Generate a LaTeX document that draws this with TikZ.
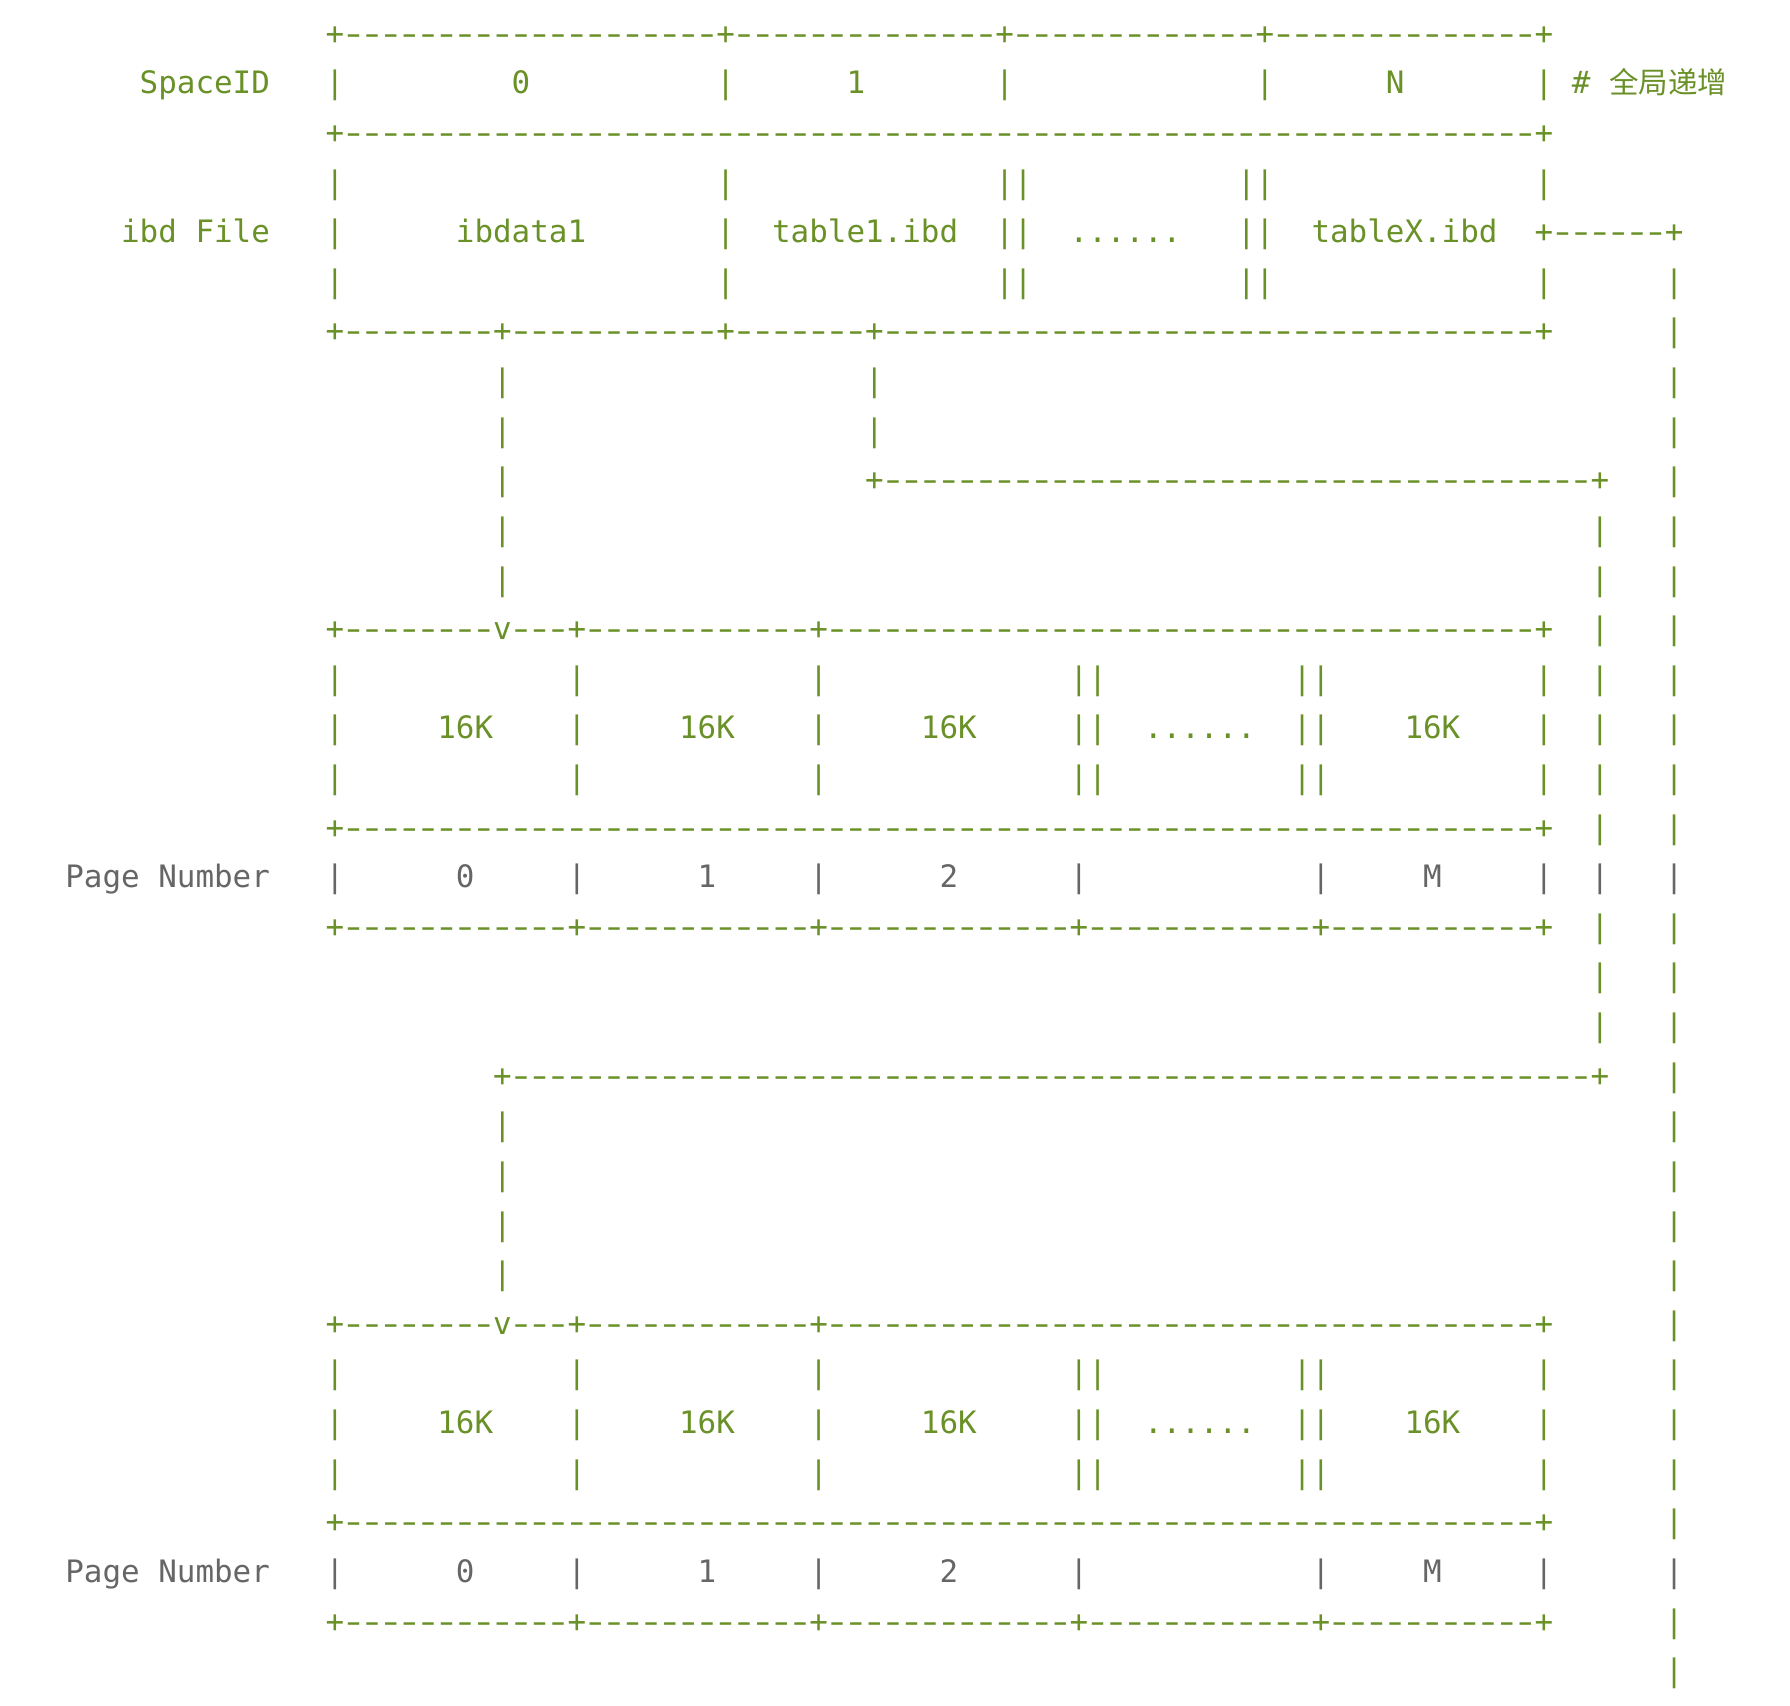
\documentclass[tikz,border=0pt]{standalone}
\usepackage{fontspec}
\newfontfamily\mono{DejaVu Sans Mono}[Ligatures=TeXOff]
\newfontfamily\cjk{Noto Sans CJK SC}
\definecolor{ascii}{RGB}{106,145,40}
\definecolor{pgray}{RGB}{102,102,102}
\newcommand\dsh{\makebox[18.6bp][c]{\scalebox{1.45}[1]{-}}}
\newcommand\dashes[1]{\foreach\i in {1,...,#1}{\dsh}}
\newcommand\sixdots{......}
\tikzset{
  txt/.style={anchor=base west, inner sep=0pt, outer sep=0pt,
    font=\mono\fontsize{30.9bp}{36bp}\selectfont},
  cjktxt/.style={anchor=base west, inner sep=0pt, outer sep=0pt,
    font=\cjk\fontsize{29.5bp}{34bp}\selectfont, text=ascii}
}
% \asciirow[colour]{line}{col/text, col/text, ...}
\newcommand\asciirow[3][ascii]{%
  \foreach \c/\t [count=\k] in {#3}{%
    \node[txt,text=#1] (r#2-\k) at ({325.7bp+(\c)*18.6bp},{-44.2bp-(#2)*49.62bp}) {\t};}}
\begin{document}
\begin{tikzpicture}
\useasboundingbox (0,0) rectangle (1790bp,-1706bp);
% SpaceID table
\asciirow{0}{0/{+\dashes{20}+\dashes{14}+\dashes{13}+\dashes{14}+}}
\asciirow{1}{-10/SpaceID, 0/|, 10/0, 21/|, 28/1, 36/|, 50/|, 57/N, 65/|, 67/\#}
\node[cjktxt] (cjk) at ({325.7bp+69*18.6bp},{-44.2bp-1*49.62bp}) {全局递增};
\asciirow{2}{0/{+\dashes{64}+}}
% ibd File table
\asciirow{3}{0/|, 21/|, 36/||, 49/||, 65/|}
\asciirow{4}{-11/ibd, -7/File, 0/|, 7/ibdata1, 21/|, 24/table1.ibd, 36/||, 40/\sixdots, 49/||, 53/tableX.ibd, 65/{+\dashes{6}+}}
\asciirow{5}{0/|, 21/|, 36/||, 49/||, 65/|, 72/|}
\asciirow{6}{0/{+\dashes{8}+\dashes{11}+\dashes{7}+\dashes{35}+}, 72/|}
\asciirow{7}{9/|, 29/|, 72/|}
\asciirow{8}{9/|, 29/|, 72/|}
\asciirow{9}{9/|, 29/{+\dashes{38}+}, 72/|}
\asciirow{10}{9/|, 68/|, 72/|}
\asciirow{11}{9/|, 68/|, 72/|}
% first page table
\asciirow{12}{0/{+\dashes{8}v\dashes{3}+\dashes{12}+\dashes{38}+}, 68/|, 72/|}
\asciirow{13}{0/|, 13/|, 26/|, 40/||, 52/||, 65/|, 68/|, 72/|}
\asciirow{14}{0/|, 6/16K, 13/|, 19/16K, 26/|, 32/16K, 40/||, 44/\sixdots, 52/||, 58/16K, 65/|, 68/|, 72/|}
\asciirow{15}{0/|, 13/|, 26/|, 40/||, 52/||, 65/|, 68/|, 72/|}
\asciirow{16}{0/{+\dashes{64}+}, 68/|, 72/|}
\asciirow[pgray]{17}{-14/Page, -9/Number, 0/|, 7/0, 13/|, 20/1, 26/|, 33/2, 40/|, 53/|, 59/M, 65/|, 68/|, 72/|}
\asciirow{18}{0/{+\dashes{12}+\dashes{12}+\dashes{13}+\dashes{12}+\dashes{11}+}, 68/|, 72/|}
\asciirow{19}{68/|, 72/|}
\asciirow{20}{68/|, 72/|}
\asciirow{21}{9/{+\dashes{58}+}, 72/|}
\asciirow{22}{9/|, 72/|}
\asciirow{23}{9/|, 72/|}
\asciirow{24}{9/|, 72/|}
\asciirow{25}{9/|, 72/|}
% second page table
\asciirow{26}{0/{+\dashes{8}v\dashes{3}+\dashes{12}+\dashes{38}+}, 72/|}
\asciirow{27}{0/|, 13/|, 26/|, 40/||, 52/||, 65/|, 72/|}
\asciirow{28}{0/|, 6/16K, 13/|, 19/16K, 26/|, 32/16K, 40/||, 44/\sixdots, 52/||, 58/16K, 65/|, 72/|}
\asciirow{29}{0/|, 13/|, 26/|, 40/||, 52/||, 65/|, 72/|}
\asciirow{30}{0/{+\dashes{64}+}, 72/|}
\asciirow[pgray]{31}{-14/Page, -9/Number, 0/|, 7/0, 13/|, 20/1, 26/|, 33/2, 40/|, 53/|, 59/M, 65/|, 72/|}
\asciirow{32}{0/{+\dashes{12}+\dashes{12}+\dashes{13}+\dashes{12}+\dashes{11}+}, 72/|}
\asciirow{33}{72/|}
\end{tikzpicture}
\end{document}
